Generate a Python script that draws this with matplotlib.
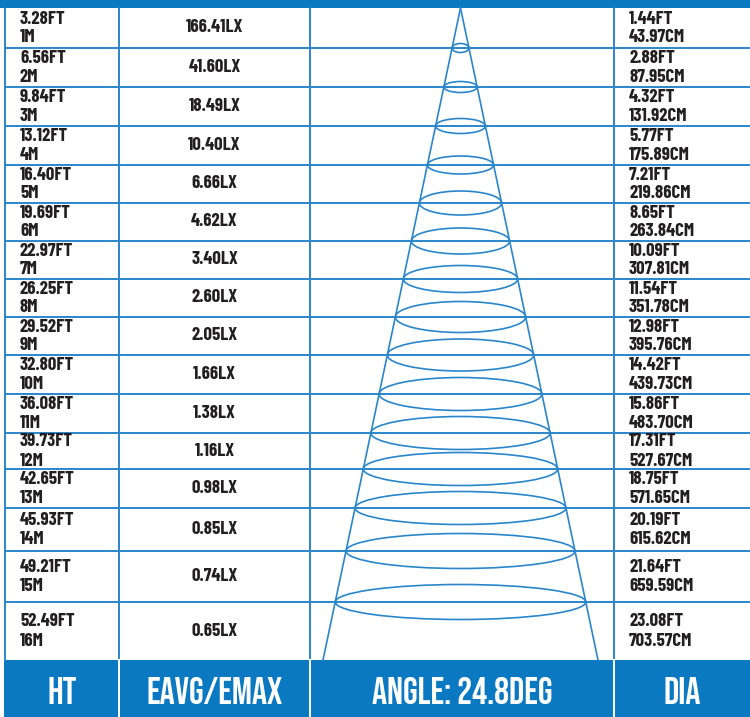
import numpy as np
import matplotlib.pyplot as plt
from matplotlib.patches import Ellipse, Rectangle

# table values
ht_ft = ["3.28FT", "6.56FT", "9.84FT", "13.12FT", "16.40FT", "19.69FT", "22.97FT", "26.25FT",
         "29.52FT", "32.80FT", "36.08FT", "39.73FT", "42.65FT", "45.93FT", "49.21FT", "52.49FT"]
ht_m = ["1M", "2M", "3M", "4M", "5M", "6M", "7M", "8M",
        "9M", "10M", "11M", "12M", "13M", "14M", "15M", "16M"]
lux = ["166.41LX", "41.60LX", "18.49LX", "10.40LX", "6.66LX", "4.62LX", "3.40LX", "2.60LX",
       "2.05LX", "1.66LX", "1.38LX", "1.16LX", "0.98LX", "0.85LX", "0.74LX", "0.65LX"]
dia_ft = ["1.44FT", "2.88FT", "4.32FT", "5.77FT", "7.21FT", "8.65FT", "10.09FT", "11.54FT",
          "12.98FT", "14.42FT", "15.86FT", "17.31FT", "18.75FT", "20.19FT", "21.64FT", "23.08FT"]
dia_cm = ["43.97CM", "87.95CM", "131.92CM", "175.89CM", "219.86CM", "263.84CM", "307.81CM",
          "351.78CM", "395.76CM", "439.73CM", "483.70CM", "527.67CM", "571.65CM", "615.62CM",
          "659.59CM", "703.57CM"]
headers = ["HT", "EAVG/EMAX", "ANGLE: 24.8DEG", "DIA"]

# layout (pixels)
W, H = 750, 717
row_lines = [8, 48, 87, 126, 165, 203, 241, 279, 317, 355, 394, 433, 469, 508, 551, 602, 660]
col_lines = [5, 119, 310, 614]
ell_h = [9, 11, 15, 18, 24, 26, 27, 31, 32, 33, 33, 33, 33, 35, 35]
apex = (460.5, 8)
base_half = 137.5

blue = "#0a79c2"
line_blue = "#2a86cb"
txt = "#231f20"
cell_font = ["Barlow Condensed", "DejaVu Sans"]
head_font = ["Bebas Neue", "DejaVu Sans"]

fig = plt.figure(figsize=(W / 100, H / 100), dpi=100)
ax = fig.add_axes([0, 0, 1, 1])
ax.set_xlim(0, W)
ax.set_ylim(H, 0)
ax.axis("off")

# top bar
ax.add_patch(Rectangle((0, 0), W, row_lines[0], color=blue, lw=0))
# bottom header bar
ax.add_patch(Rectangle((4, row_lines[-1]), W - 4, H - row_lines[-1], color=blue, lw=0))

# grid
for y in row_lines[1:-1]:
    ax.plot([col_lines[0], W], [y, y], color=line_blue, lw=1.4)
for x in col_lines:
    ax.plot([x, x], [row_lines[0], row_lines[-1]], color=line_blue, lw=1.4)
for x in col_lines[1:]:
    ax.plot([x, x], [row_lines[-1], H], color="white", lw=1.4)

# cone
y_bot = row_lines[-1]
ax.plot([apex[0], apex[0] - base_half], [apex[1], y_bot], color=line_blue, lw=1.2)
ax.plot([apex[0], apex[0] + base_half], [apex[1], y_bot], color=line_blue, lw=1.2)
for y, eh in zip(row_lines[1:-1], ell_h):
    w = 2 * base_half * (y - apex[1]) / (y_bot - apex[1])
    ax.add_patch(Ellipse((apex[0], y), w, eh, fill=False, ec=line_blue, lw=1.2))

# cell texts
for i in range(len(ht_ft)):
    yc = (row_lines[i] + row_lines[i + 1]) / 2
    kw = dict(fontsize=13.5, fontweight="bold", color=txt, family=cell_font, va="center")
    ax.text(20, yc - 9, ht_ft[i], ha="left", **kw)
    ax.text(20, yc + 10, ht_m[i], ha="left", **kw)
    ax.text((col_lines[1] + col_lines[2]) / 2, yc, lux[i], ha="center", **kw)
    ax.text(629, yc - 9, dia_ft[i], ha="left", **kw)
    ax.text(629, yc + 10, dia_cm[i], ha="left", **kw)

# header texts
centers = [(col_lines[0] + col_lines[1]) / 2, (col_lines[1] + col_lines[2]) / 2,
           (col_lines[2] + col_lines[3]) / 2, (col_lines[3] + W) / 2]
for x, s in zip(centers, headers):
    ax.text(x, (row_lines[-1] + H) / 2 + 2, s, ha="center", va="center", color="white",
            fontsize=27, family=head_font)

fig.savefig("out.png", dpi=100)
